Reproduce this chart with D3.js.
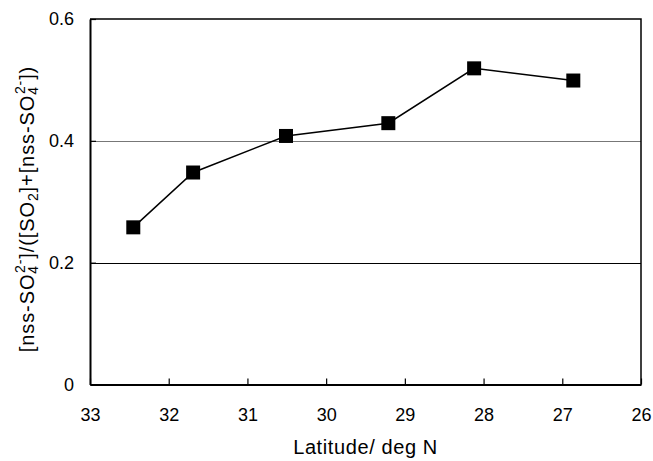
<!DOCTYPE html>
<html>
    <head>
        <script src = "https://cdn.jsdelivr.net/npm/d3@7"></script>
        <title>nss-SO4 fraction vs latitude</title>
    </head>
    <style>
        body { margin: 0; background: #fff; }
        text { font-family: Arial, "Liberation Sans", sans-serif; fill: #000; }
    </style>
    <body></body>

<!--D3 Script-->
    <script text = "javascript">

        //Data
        var latitude = [32.45, 31.69, 30.51, 29.21, 28.12, 26.86];
        var ratio = [0.258, 0.348, 0.408, 0.429, 0.519, 0.499];
        var xTicks = [33, 32, 31, 30, 29, 28, 27, 26];
        var yTicks = [0, 0.2, 0.4, 0.6];

        var width = 653;
        var height = 461;
        var plotLeft = 90, plotRight = 641, plotTop = 19, plotBottom = 384.5;

        //Scales (latitude runs backwards)
        var xScale = d3.scaleLinear()
                        .domain([33, 26])
                        .range([plotLeft, plotRight]);

        var yScale = d3.scaleLinear()
                        .domain([0, 0.6])
                        .range([plotBottom, plotTop]);

        var svg = d3.select("body")
                    .append("svg")
                    .attr("width", width)
                    .attr("height", height);

        //Gridlines
        svg.selectAll(".grid")
            .data([0.2, 0.4])
            .enter()
            .append("line")
            .attr("class", "grid")
            .attr("x1", plotLeft)
            .attr("x2", plotRight)
            .attr("y1", function(d){ return Math.round(yScale(d)) + 0.5; })
            .attr("y2", function(d){ return Math.round(yScale(d)) + 0.5; })
            .attr("stroke", function(d){ return d == 0.4 ? "#777" : "#000"; })
            .attr("stroke-width", 1);

        //Frame top & right
        svg.append("path")
            .attr("d", "M" + plotLeft + "," + plotTop + "H" + plotRight + "V" + plotBottom)
            .attr("fill", "none")
            .attr("stroke", "#000")
            .attr("stroke-width", 1.5);

        //Axes, ticks pointing inwards
        var xAxis = d3.axisBottom(xScale)
                        .tickValues(xTicks)
                        .tickSizeInner(-6)
                        .tickSizeOuter(0)
                        .tickPadding(24)
                        .tickFormat(d3.format("d"));

        var yAxis = d3.axisLeft(yScale)
                        .tickValues(yTicks)
                        .tickSizeInner(-6)
                        .tickSizeOuter(0)
                        .tickPadding(16)
                        .tickFormat(function(d){ return d == 0 ? "0" : d3.format(".1f")(d); });

        var gx = svg.append("g")
            .attr("transform", "translate(0," + plotBottom + ")")
            .call(xAxis);

        var gy = svg.append("g")
            .attr("transform", "translate(" + plotLeft + ",0)")
            .call(yAxis);

        [gx, gy].forEach(function(g){
            g.attr("font-family", null).attr("font-size", 18);
            g.select(".domain").attr("stroke", "#000").attr("stroke-width", 2);
            g.selectAll(".tick line").attr("stroke", "#000").attr("stroke-width", 1.2);
        });

        //Series line
        var line = d3.line()
                    .x(function(d){ return xScale(d[0]); })
                    .y(function(d){ return yScale(d[1]); });

        var points = d3.zip(latitude, ratio);

        svg.append("path")
            .datum(points)
            .attr("d", line)
            .attr("fill", "none")
            .attr("stroke", "#000")
            .attr("stroke-width", 1.5);

        //Square markers
        var size = 14;
        svg.selectAll(".marker")
            .data(points)
            .enter()
            .append("rect")
            .attr("class", "marker")
            .attr("x", function(d){ return xScale(d[0]) - size/2; })
            .attr("y", function(d){ return yScale(d[1]) - size/2; })
            .attr("width", size)
            .attr("height", size)
            .attr("fill", "#000");

        //X axis title
        svg.append("text")
            .attr("x", (plotLeft + plotRight) / 2)
            .attr("y", 454)
            .attr("text-anchor", "middle")
            .attr("font-size", 20)
            .attr("letter-spacing", 0.6)
            .text("Latitude/ deg N");

        //Y axis title with sub/superscripts
        var yl = svg.append("text")
            .attr("transform", "translate(34,209) rotate(-90)")
            .attr("text-anchor", "middle")
            .attr("font-size", 20)
            .attr("letter-spacing", 0.9);

        // -1 = subscript, 1 = superscript; the 2- sits over the 4
        var parts = [
            ["[nss-SO", 0], ["4", -1], ["2-", 1], ["]/([SO", 0], ["2", -1],
            ["]+[nss-SO", 0], ["4", -1], ["2-", 1], ["])", 0]
        ];
        parts.forEach(function(p){
            var t = yl.append("tspan").text(p[0]);
            if(p[1] == -1){
                t.attr("font-size", 14).attr("baseline-shift", "-25%");
            } else if(p[1] == 1){
                t.attr("font-size", 14).attr("baseline-shift", "65%").attr("dx", -8);
            }
        });

    </script>

</html>
